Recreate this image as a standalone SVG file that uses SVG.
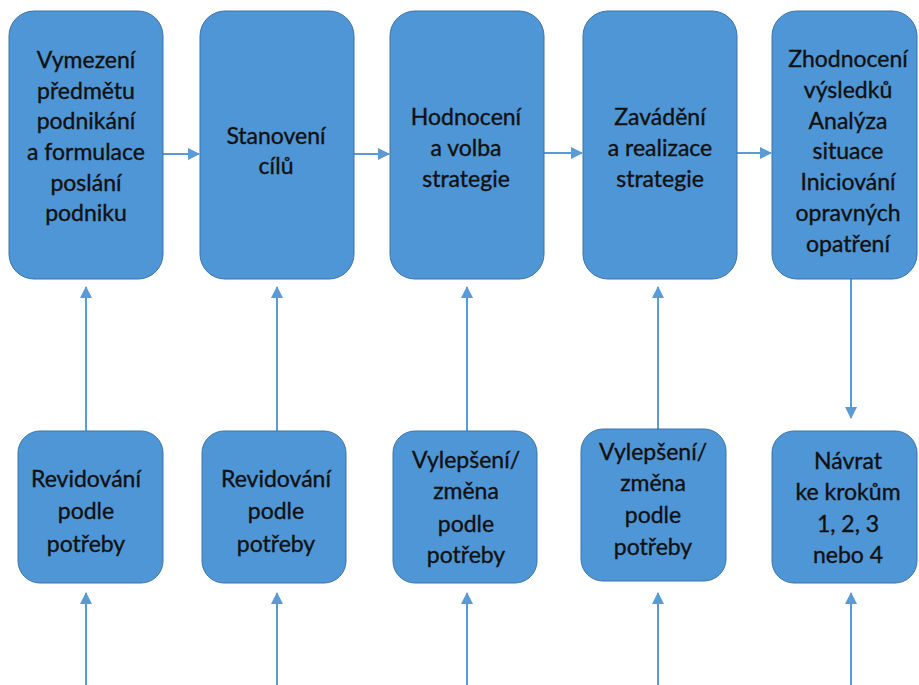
<svg xmlns="http://www.w3.org/2000/svg" width="919" height="685" viewBox="0 0 919 685">
<style>
.box{fill:#4E96D5;stroke:#3D73A6;stroke-width:1}
.t{font-family:Lato,"Liberation Sans",sans-serif;font-size:23px;fill:#111;stroke:#111;stroke-width:0.35;text-anchor:middle}
.c{stroke:#5B9BD5;stroke-width:2;fill:none}
</style>
<defs>
<marker id="ah" markerWidth="12" markerHeight="12" refX="11" refY="6" orient="auto" markerUnits="userSpaceOnUse">
<path d="M0,0 L12,6 L0,12 Z" fill="#5B9BD5"/>
</marker>
</defs>
<rect width="919" height="685" fill="#fff"/>
<g id="connectors">
<line class="c" x1="163" y1="154" x2="199" y2="154" marker-end="url(#ah)"/>
<line class="c" x1="354" y1="154" x2="389" y2="154" marker-end="url(#ah)"/>
<line class="c" x1="544" y1="153" x2="582" y2="153" marker-end="url(#ah)"/>
<line class="c" x1="737" y1="153" x2="771" y2="153" marker-end="url(#ah)"/>
<line class="c" x1="86" y1="431" x2="86" y2="287" marker-end="url(#ah)"/>
<line class="c" x1="277" y1="431" x2="277" y2="287" marker-end="url(#ah)"/>
<line class="c" x1="467" y1="431" x2="467" y2="287" marker-end="url(#ah)"/>
<line class="c" x1="658" y1="429" x2="658" y2="287" marker-end="url(#ah)"/>
<line class="c" x1="851" y1="279" x2="851" y2="418" marker-end="url(#ah)"/>
<line class="c" x1="86" y1="685" x2="86" y2="593" marker-end="url(#ah)"/>
<line class="c" x1="277" y1="685" x2="277" y2="593" marker-end="url(#ah)"/>
<line class="c" x1="467" y1="685" x2="467" y2="593" marker-end="url(#ah)"/>
<line class="c" x1="658" y1="685" x2="658" y2="593" marker-end="url(#ah)"/>
<line class="c" x1="851" y1="685" x2="851" y2="593" marker-end="url(#ah)"/>
</g>
<g id="n1">
<rect class="box" x="9" y="11" width="154" height="268" rx="25"/>
<text class="t"><tspan x="86" y="68">Vymezení</tspan><tspan x="86" y="99">předmětu</tspan><tspan x="86" y="129">podnikání</tspan><tspan x="86" y="160">a formulace</tspan><tspan x="86" y="191">poslání</tspan><tspan x="86" y="221">podniku</tspan></text>
</g>
<g id="n2">
<rect class="box" x="200" y="11" width="154" height="268" rx="25"/>
<text class="t"><tspan x="276" y="144">Stanovení</tspan><tspan x="276" y="174">cílů</tspan></text>
</g>
<g id="n3">
<rect class="box" x="390" y="11" width="154" height="268" rx="25"/>
<text class="t"><tspan x="466" y="125">Hodnocení</tspan><tspan x="466" y="156">a volba</tspan><tspan x="466" y="187">strategie</tspan></text>
</g>
<g id="n4">
<rect class="box" x="583" y="11" width="154" height="268" rx="25"/>
<text class="t"><tspan x="660" y="125">Zavádění</tspan><tspan x="660" y="156">a realizace</tspan><tspan x="660" y="187">strategie</tspan></text>
</g>
<g id="n5">
<rect class="box" x="772" y="11" width="145" height="268" rx="25"/>
<text class="t"><tspan x="848" y="67">Zhodnocení</tspan><tspan x="848" y="98">výsledků</tspan><tspan x="848" y="129">Analýza</tspan><tspan x="848" y="159">situace</tspan><tspan x="848" y="190">Iniciování</tspan><tspan x="848" y="221">opravných</tspan><tspan x="848" y="252">opatření</tspan></text>
</g>
<g id="b1">
<rect class="box" x="18" y="431" width="145" height="152" rx="22"/>
<text class="t"><tspan x="86" y="487">Revidování</tspan><tspan x="86" y="519">podle</tspan><tspan x="86" y="552">potřeby</tspan></text>
</g>
<g id="b2">
<rect class="box" x="202" y="431" width="144" height="152" rx="22"/>
<text class="t"><tspan x="276" y="487">Revidování</tspan><tspan x="276" y="519">podle</tspan><tspan x="276" y="552">potřeby</tspan></text>
</g>
<g id="b3">
<rect class="box" x="393" y="431" width="144" height="152" rx="22"/>
<text class="t"><tspan x="466" y="468">Vylepšení/</tspan><tspan x="466" y="499">změna</tspan><tspan x="466" y="532">podle</tspan><tspan x="466" y="563">potřeby</tspan></text>
</g>
<g id="b4">
<rect class="box" x="581" y="429" width="145" height="152" rx="22"/>
<text class="t"><tspan x="653" y="460">Vylepšení/</tspan><tspan x="653" y="491">změna</tspan><tspan x="653" y="523">podle</tspan><tspan x="653" y="555">potřeby</tspan></text>
</g>
<g id="b5">
<rect class="box" x="772" y="431" width="145" height="152" rx="22"/>
<text class="t"><tspan x="848" y="469">Návrat</tspan><tspan x="848" y="500">ke krokům</tspan><tspan x="848" y="532">1, 2, 3</tspan><tspan x="848" y="563">nebo 4</tspan></text>
</g>
</svg>
